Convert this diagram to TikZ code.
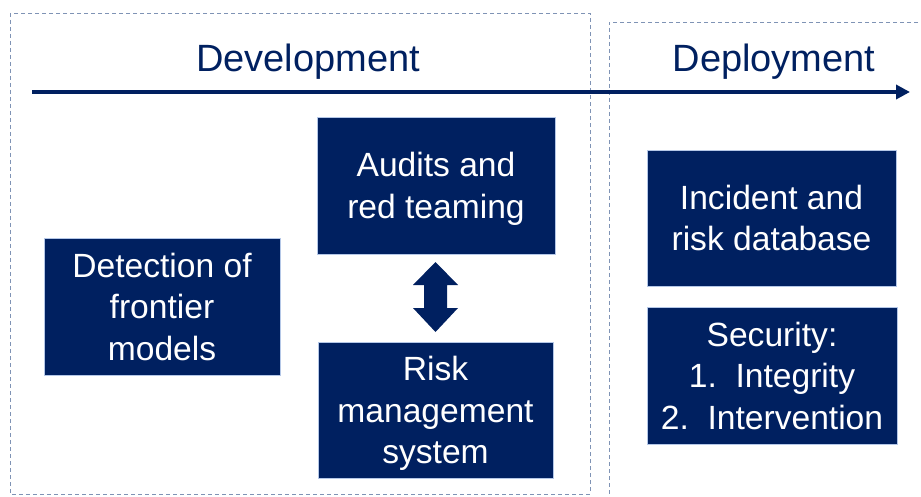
\documentclass[tikz,border=0pt]{standalone}
\usepackage{fontspec}
\setmainfont{Liberation Sans}
\usetikzlibrary{arrows.meta}
\definecolor{navy}{HTML}{002060}
\definecolor{dashc}{HTML}{7F93B5}
\definecolor{edgec}{HTML}{B4C7E7}
\begin{document}
\begin{tikzpicture}[x=1pt,y=-1pt,
  box/.style={draw=edgec,line width=0.8pt,fill=navy,text=white,align=center,
    inner sep=0pt,text depth=0pt,font=\fontsize{33.6}{41.5}\selectfont},
  phase/.style={text=navy,font=\fontsize{38}{44}\selectfont,inner sep=0pt,anchor=base},
  frame/.style={draw=dashc,line width=0.9pt,dash pattern=on 4pt off 3pt}]
\useasboundingbox (0,0) rectangle (921,497);
% frames
\draw[frame] (10,13) rectangle (590,494);
\draw[frame] (925,22) -- (609,22) -- (609,500);
% titles
\node[phase] (dev) at (308,72) {Development};
\node[phase] (dep) at (774,72) {Deployment};
% timeline arrow
\coordinate (tl0) at (32,92);
\coordinate (tl1) at (910,92);
\draw[navy,line width=4.5pt,-{Triangle[length=14pt,width=14pt]}] (tl0) -- (tl1);
% boxes
\node[box,minimum width=238,minimum height=137] (audit) at (436,185.5) {Audits and\\red teaming};
\node[box,minimum width=236,minimum height=137] (detect) at (162,306.5) {Detection of\\frontier\\models};
\node[box,minimum width=235,minimum height=136] (risk) at (435.5,410) {Risk\\management\\system};
\node[box,minimum width=249,minimum height=136] (incident) at (771.5,218) {Incident and\\risk database};
\node[box,minimum width=250,minimum height=137] (security) at (772,375.5) {Security:\\1.\ \ Integrity\\2.\ \ Intervention};
% double arrow between audit and risk
\fill[navy] (435.5,262) -- (458,285) -- (447,285) -- (447,308) -- (458,308)
  -- (435.5,332) -- (413,308) -- (424,308) -- (424,285) -- (413,285) -- cycle;
\end{tikzpicture}
\end{document}
